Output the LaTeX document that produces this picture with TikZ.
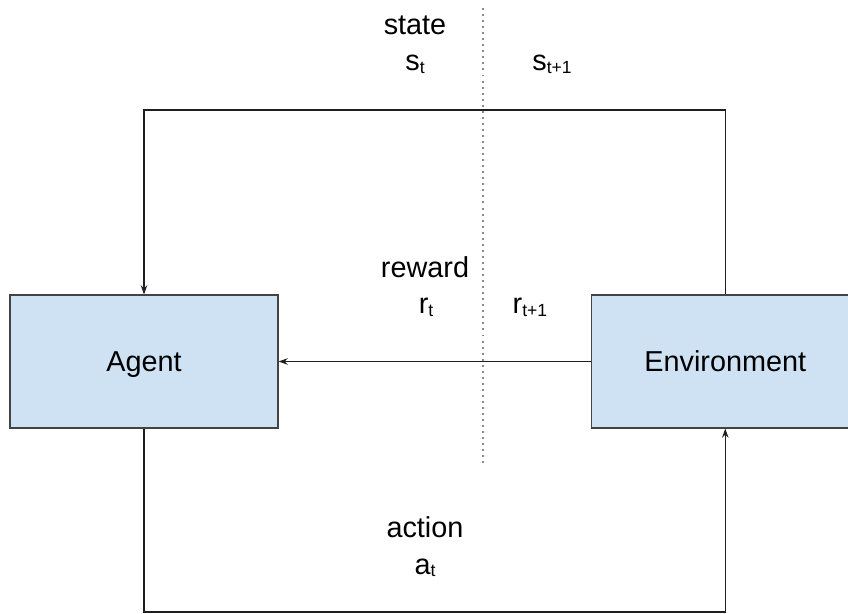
\documentclass[tikz,border=0pt]{standalone}
\usepackage{fontspec}
\setmainfont{Liberation Sans}
\usetikzlibrary{arrows.meta,positioning,calc}
\definecolor{boxfill}{HTML}{CFE2F3}
\definecolor{boxline}{HTML}{434343}
\definecolor{wire}{HTML}{1F1F1F}
\definecolor{divider}{HTML}{8A8A8A}
\newcommand{\rlsub}[1]{\raisebox{-2pt}{\fontsize{12.5}{13}\selectfont #1}}
\tikzset{rlbox/.style={draw=boxline,fill=boxfill,line width=0.8pt,minimum width=6.7cm,
 minimum height=3.325cm,inner sep=0pt,text depth=0pt,font=\fontsize{20.5}{24}\selectfont},
 rlarrow/.style={-{Stealth[length=6.5pt,width=4.6pt]},draw=wire,line width=0.75pt},
 rllabel/.style={anchor=base,inner sep=0pt,font=\fontsize{20.5}{24}\selectfont}}

\begin{document}
\begin{tikzpicture}[x=0.025cm,y=0.025cm,node distance=7.8cm]
\useasboundingbox (0,0) rectangle (848,613);
\node[rlbox] (agent) at (144,251.5) {Agent};
\node[rlbox,right=of agent] (env) {Environment};
% time step divider
\coordinate (divtop) at (483,605);
\coordinate (divbot) at (483,146);
\draw[divider,line width=0.8pt,dash pattern=on 1.4pt off 2.9pt] (divtop)--(divbot);
% corners of the two loops
\coordinate (stateturn) at (144,503);
\coordinate (actionturn) at (144,1);
\draw[rlarrow] (env.north) |- (stateturn)--(agent.north);
\draw[rlarrow] (env.west)--(agent.east);
\draw[rlarrow] (agent.south)--(actionturn) -| (env.south);
% signal labels
\node[rllabel] (state) at (415,578) {state};
\node[rllabel] (st) at (415,542) {s\rlsub{t}};
\node[rllabel] (snext) at (552,542) {s\rlsub{t+1}};
\node[rllabel] (reward) at (425,335) {reward};
\node[rllabel] (rt) at (426,299) {r\rlsub{t}};
\node[rllabel] (rnext) at (530,299) {r\rlsub{t+1}};
\node[rllabel] (action) at (425,76) {action};
\node[rllabel] (at) at (425,39) {a\rlsub{t}};
\end{tikzpicture}
\end{document}
